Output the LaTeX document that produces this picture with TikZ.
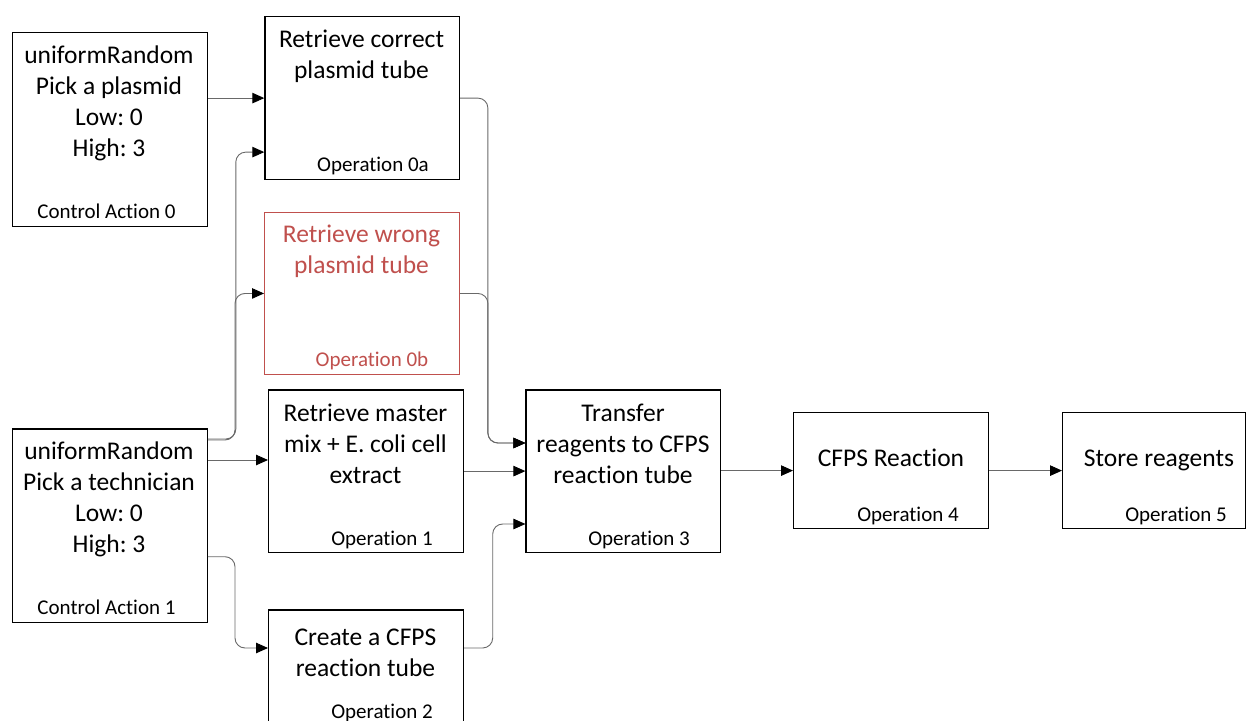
\documentclass[tikz,border=0pt]{standalone}
\usepackage{fontspec}
\setmainfont{Carlito}[Ligatures=NoCommon,Contextuals=NoAlternate]
\frenchspacing
\usetikzlibrary{calc,arrows.meta}
\definecolor{boxred}{RGB}{192,80,77}
\definecolor{conngray}{RGB}{105,105,105}
\newcommand{\myOp}{Operat\kern0pt ion}
\newcommand{\myAct}{Act\kern0pt ion}
\begin{document}
\begin{tikzpicture}[x=1bp,y=-1bp,
  box/.style={draw=black,line width=1.2bp,rectangle,inner sep=0pt,anchor=north west},
  redbox/.style={box,draw=boxred},
  maintext/.style={font=\fontsize{25.5bp}{30.8bp}\selectfont,align=center,anchor=north,inner sep=0pt},
  single/.style={font=\fontsize{25.5bp}{30.8bp}\selectfont,anchor=base,inner sep=0pt},
  small/.style={font=\fontsize{21bp}{25bp}\selectfont,anchor=base,inner sep=0pt},
  conn/.style={draw=conngray,line width=0.9bp,rounded corners=10bp,-{Triangle[length=12bp,width=10.5bp,color=black]}}
]
\clip (0,0) rectangle (1246,721);
\fill[white] (0,0) rectangle (1246,721);

% boxes
\node[box,minimum width=195bp,minimum height=194bp] (ca0) at (11.7,31.7) {};
\node[box,minimum width=195bp,minimum height=193.4bp] (ca1) at (11.7,428.3) {};
\node[box,minimum width=194.7bp,minimum height=163bp] (op0a) at (264.3,16) {};
\node[redbox,minimum width=194.7bp,minimum height=162.3bp] (op0b) at (264,211.7) {};
\node[box,minimum width=195bp,minimum height=162.4bp] (op1) at (268,389.3) {};
\node[box,minimum width=195bp,minimum height=162.4bp] (op2) at (268,609.3) {};
\node[box,minimum width=194.6bp,minimum height=162.4bp] (op3) at (525.4,389.3) {};
\node[box,minimum width=195bp,minimum height=116bp] (op4) at (793,412) {};
\node[box,minimum width=183bp,minimum height=116bp] (op5) at (1062,412) {};

% main texts
\node[maintext] (tca0) at (109,46) {uniformRandom\\Pick a plasmid\\Low: 0\\High: 3};
\node[maintext] (tca1) at (109,442) {uniformRandom\\Pick a technician\\Low: 0\\High: 3};
\node[maintext] (top0a) at (361.5,30) {Retrieve correct\\plasmid tube};
\node[maintext,text=boxred] (top0b) at (361.5,225) {Retrieve wrong\\plasmid tube};
\node[maintext] (top1) at (365.5,404) {Retrieve master\\mix + E. coli cell\\extract};
\node[maintext] (top2) at (365.5,629) {Create a CFPS\\reaction tube};
\node[maintext] (top3) at (623,404) {Transfer\\reagents to CFPS\\reaction tube};
\node[single] (top4) at (891,466) {CFPS Reaction};
\node[single] (top5) at (1159,466) {Store reagents};

% small labels
\node[small] (lca0) at (106.5,218.3) {Control \myAct{} 0};
\node[small] (lca1) at (106.5,614.3) {Control \myAct{} 1};
\node[small] (lop0a) at (373,172) {\myOp{} 0a};
\node[small,text=boxred] (lop0b) at (372,366.7) {\myOp{} 0b};
\node[small] (lop1) at (382,545) {\myOp{} 1};
\node[small] (lop2) at (382,718) {\myOp{} 2};
\node[small] (lop3) at (639,545) {\myOp{} 3};
\node[small] (lop4) at (908,521.7) {\myOp{} 4};
\node[small] (lop5) at (1176,521.7) {\myOp{} 5};

% connectors
\draw[conn] (ca0.east |- op0a.west) -- (op0a.west);
\draw[conn] ($(ca1.north east)+(0,10.7)$) -| ($(op0a.west)+(-28.5,54)$) -- ($(op0a.west)+(0,54)$);
\draw[conn] ($(ca1.north east)+(0,11.7)$) -| ($(op0b.west)+(-29,0)$) -- (op0b.west);
\draw[conn] ($(ca1.north east)+(0,31.7)$) coordinate (s1) -- (op1.west |- s1);
\draw[conn] ($(ca1.north east)+(0,128.4)$) -| ($(op2.north west)+(-33,38.7)$) -- ($(op2.north west)+(0,38.7)$);
\draw[conn] (op0a.east) -| ($(op3.north west)+(-37.5,53.7)$) -- ($(op3.north west)+(0,53.7)$);
\draw[conn] (op0b.east) -| ($(op3.north west)+(-37.5,53.7)$) -- ($(op3.north west)+(0,53.7)$);
\draw[conn] (op1.east) -- (op3.west);
\draw[conn] ($(op2.north east)+(0,38.7)$) -| ($(op3.north west)+(-32.7,134.7)$) -- ($(op3.north west)+(0,134.7)$);
\draw[conn] (op3.east |- op4.west) -- (op4.west);
\draw[conn] (op4.east) -- (op5.west);
\end{tikzpicture}
\end{document}
